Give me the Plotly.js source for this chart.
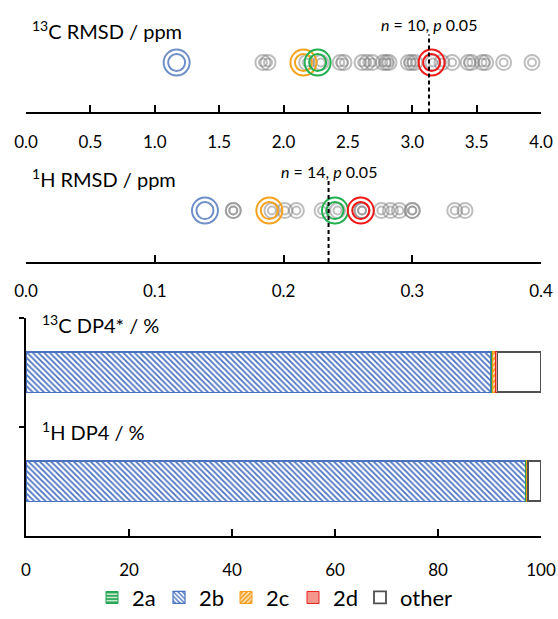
<!DOCTYPE html>
<html><head><meta charset="utf-8">
<script src="https://cdn.plot.ly/plotly-3.0.1.min.js"></script>
<style>html,body{margin:0;padding:0;background:#fff}#chart{width:558px;height:619px}</style>
</head><body><div id="chart"></div>
<script>
// ---- data ----
const c13Gray = [1.84, 1.88, 2.18, 2.29, 2.44, 2.47, 2.61, 2.65, 2.69, 2.775, 2.80, 2.82, 2.97, 2.995, 3.02, 3.16, 3.23, 3.31, 3.435, 3.46, 3.545, 3.57, 3.71, 3.93];
const c13Named = {blue: 1.17, orange: 2.155, green: 2.265, red: 3.15};
const c13Threshold = 3.13;
const h1Gray = [0.161, 0.161, 0.191, 0.201, 0.210, 0.230, 0.242, 0.261, 0.261, 0.276, 0.283, 0.290, 0.300, 0.300, 0.333, 0.341];
const h1Named = {blue: 0.139, orange: 0.189, green: 0.240, red: 0.260};
const h1Threshold = 0.235;
const dp4Categories = ['13C DP4*', '1H DP4'];
const dp4_2a = [0.35, 0.15];
const dp4_2b = [90.3, 97.0];
const dp4_2c = [0.5, 0.3];
const dp4_2d = [0.4, 0.05];
const dp4Other = [8.45, 2.5];
const c13Ticks = [0, 0.5, 1, 1.5, 2, 2.5, 3, 3.5, 4];
const h1Ticks = [0, 0.1, 0.2, 0.3, 0.4];
const dp4Ticks = [0, 20, 40, 60, 80, 100];

// ---- styling ----
const FONT = 'Lato, "DejaVu Sans", sans-serif';
const W = 558, H = 619, L = 26, R = 17;
const py = p => 1 - p / H;
const px = p => (p - L) / (W - L - R);
const colors = {blue: '#6f8fc8', orange: '#f7a21b', green: '#20b050', red: '#f01818'};
const gray = 'rgba(125,125,125,0.5)';

const traces = [];
function rings(xs, axisX, axisY, color, outer, inner, w) {
  const lane = xs.map(() => 0);
  [outer, inner].forEach(sz => traces.push({
    type: 'scatter', mode: 'markers', x: xs, y: lane, xaxis: axisX, yaxis: axisY,
    marker: {symbol: 'circle-open', size: sz, color: color, line: {width: w, color: color}},
    hoverinfo: 'skip', showlegend: false
  }));
}
rings(c13Gray, 'x', 'y', gray, 15, 8, 2);
rings(h1Gray, 'x2', 'y2', gray, 15, 8, 2);
['blue', 'orange', 'green', 'red'].forEach(k => {
  rings([c13Named[k]], 'x', 'y', colors[k], 26, 17, 2);
  rings([h1Named[k]], 'x2', 'y2', colors[k], 26, 17, 2);
});

function bar(name, vals, rank, fill, line, lw, pattern, lwidth) {
  const t = {
    type: 'bar', orientation: 'h', name: name, x: vals, y: dp4Categories,
    xaxis: 'x3', yaxis: 'y3', width: 0.37, legendrank: rank,
    marker: {color: fill, line: {color: line, width: lw}, pattern: pattern},
    hoverinfo: 'skip'
  };
  if (lwidth) t.legendwidth = lwidth;
  traces.push(t);
}
bar('2b', dp4_2b, 2, '#ffffff', '#4a72c0', 1.2, {shape: '\\', fgcolor: '#4a72c0', bgcolor: '#ffffff', size: 4, solidity: 0.45, fillmode: 'replace'});
bar('2a', dp4_2a, 1, '#ffffff', '#20a050', 1, {shape: '-', fgcolor: '#30a85a', bgcolor: '#c8ecd2', size: 4, solidity: 0.5});
bar('2c', dp4_2c, 3, '#ffffff', '#f59a18', 1, {shape: '/', fgcolor: '#f59a18', bgcolor: '#fde6c0', size: 4, solidity: 0.5});
bar('2d', dp4_2d, 4, '#f4978c', '#e82020', 1, null);
bar('other', dp4Other, 5, '#ffffff', '#505050', 1.8, null, 62);

const axisX = (domainAnchor, range, ticks, fmt, standoff) => ({
  anchor: domainAnchor, range: range, tickvals: ticks, ticktext: ticks.map(fmt),
  showline: true, linecolor: '#000', linewidth: 2, ticks: 'inside', ticklen: 7, tickwidth: 2, tickcolor: '#000',
  ticklabelstandoff: standoff,
  showgrid: false, zeroline: false, domain: [0, 1],
  tickfont: {family: FONT, size: 17, color: '#000'}, fixedrange: true
});

const dash = '4px,3px';
const layout = {
  width: W, height: H, margin: {l: L, r: R, t: 0, b: 0},
  paper_bgcolor: '#fff', plot_bgcolor: 'rgba(0,0,0,0)',
  showlegend: true, barmode: 'stack',
  xaxis: axisX('y', [0, 4], c13Ticks, v => v.toFixed(1), 13),
  yaxis: {domain: [py(115), py(20)], range: [-1.16, 1], visible: false, fixedrange: true},
  xaxis2: axisX('y2', [0, 0.4], h1Ticks, v => v.toFixed(1), 13),
  yaxis2: {domain: [py(268), py(170)], range: [-1.156, 1], visible: false, fixedrange: true},
  xaxis3: axisX('y3', [0, 100], dp4Ticks, v => String(v), 18),
  yaxis3: {domain: [py(548), py(325)], type: 'category', categoryorder: 'array', categoryarray: dp4Categories,
    autorange: 'reversed', showline: true, linecolor: '#000', linewidth: 2, ticks: 'outside', ticklen: 5,
    tickwidth: 2, tickcolor: '#000', tickson: 'boundaries', showticklabels: false, showgrid: false, fixedrange: true},
  legend: {orientation: 'h', x: px(92), xanchor: 'left', y: py(590), yanchor: 'top', yref: 'paper',
    traceorder: 'normal', entrywidth: 22, entrywidthmode: 'pixels',
    font: {family: FONT, size: 22, color: '#000'}, itemwidth: 30, tracegroupgap: 0, bgcolor: 'rgba(0,0,0,0)'},
  shapes: [
    {type: 'line', xref: 'x', yref: 'y domain', x0: c13Threshold, x1: c13Threshold, y0: 0, y1: 0.84,
      line: {color: '#000', width: 2, dash: dash}},
    {type: 'line', xref: 'x2', yref: 'y2 domain', x0: h1Threshold, x1: h1Threshold, y0: 0, y1: 0.845,
      line: {color: '#000', width: 2, dash: dash}}
  ],
  annotations: [
    {xref: 'paper', yref: 'paper', x: px(30), y: py(31), xanchor: 'left', yanchor: 'middle',
      text: '<sup>13</sup>C RMSD / ppm', showarrow: false, font: {family: FONT, size: 20, color: '#000'}},
    {xref: 'x', yref: 'paper', x: c13Threshold, y: py(25), xanchor: 'center', yanchor: 'middle',
      text: '<i>n</i> = 10, <i>p</i> 0.05', showarrow: false, font: {family: FONT, size: 16, color: '#000'}},
    {xref: 'paper', yref: 'paper', x: px(30), y: py(182), xanchor: 'left', yanchor: 'middle',
      text: '<sup>1</sup>H RMSD / ppm', showarrow: false, font: {family: FONT, size: 20, color: '#000'}},
    {xref: 'x2', yref: 'paper', x: h1Threshold, y: py(175), xanchor: 'center', yanchor: 'middle',
      text: '<i>n</i> = 14, <i>p</i> 0.05', showarrow: false, font: {family: FONT, size: 16, color: '#000'}},
    {xref: 'paper', yref: 'paper', x: px(40), y: py(331), xanchor: 'left', yanchor: 'middle',
      text: '<sup>13</sup>C DP4* / %', showarrow: false, font: {family: FONT, size: 20, color: '#000'}},
    {xref: 'paper', yref: 'paper', x: px(40), y: py(441), xanchor: 'left', yanchor: 'middle',
      text: '<sup>1</sup>H DP4 / %', showarrow: false, font: {family: FONT, size: 20, color: '#000'}}
  ]
};
Plotly.newPlot('chart', traces, layout, {staticPlot: true, displayModeBar: false});
</script></body></html>
